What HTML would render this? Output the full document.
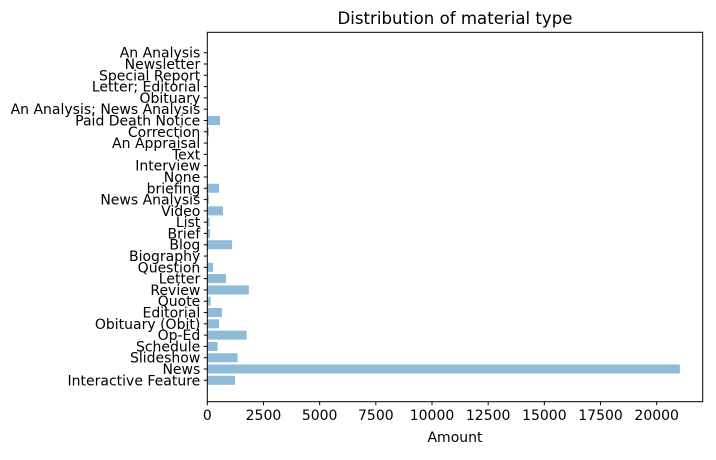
<!DOCTYPE html>
<html><head><meta charset="utf-8"><style>
body{margin:0;background:#fff;}
svg text{font-family:"DejaVu Sans","Liberation Sans",sans-serif;fill:#000;}
</style></head><body>
<svg id="chart" width="716" height="455">
<text x="455" y="24" font-size="16.6" text-anchor="middle">Distribution of material type</text>
<g id="bars"></g><g id="yticks"></g><g id="xticks"></g>
<rect x="207.3" y="32.3" width="495.4" height="369.4" fill="none" stroke="#000" stroke-width="1"/>
<text x="455" y="442" font-size="14" text-anchor="middle">Amount</text>
</svg>
<script>
const categories=["Interactive Feature","News","Slideshow","Schedule","Op-Ed","Obituary (Obit)","Editorial","Quote","Review","Letter","Question","Biography","Blog","Brief","List","Video","News Analysis","briefing","None","Interview","Text","An Appraisal","Correction","Paid Death Notice","An Analysis; News Analysis","Obituary","Letter; Editorial","Special Report","Newsletter","An Analysis"];
const amounts=[1230,21030,1350,460,1750,520,650,150,1850,830,250,5,1100,120,100,700,70,520,5,5,5,5,70,565,3,3,3,3,3,3];
const xTicks=[0,2500,5000,7500,10000,12500,15000,17500,20000];
</script>
<script>
const NS="http://www.w3.org/2000/svg";
const X0=207.3, XPX=(656.7-207.3)/20000;
const xs=v=>X0+v*XPX;
const n=categories.length;
const Y0=380.3, step=(380.3-52.7)/(n-1);
const ys=i=>Y0-i*step;
const bars=document.getElementById('bars'),yt=document.getElementById('yticks'),xt=document.getElementById('xticks');
categories.forEach((c,i)=>{
  const r=document.createElementNS(NS,'rect');
  r.setAttribute('x',X0);r.setAttribute('y',ys(i)-step*0.4);
  r.setAttribute('width',Math.max(0,xs(amounts[i])-X0));r.setAttribute('height',step*0.8);
  r.setAttribute('fill','#8fbbd9');
  
  
  bars.appendChild(r);
  const l=document.createElementNS(NS,'line');
  l.setAttribute('x1',X0-3.5);l.setAttribute('x2',X0);l.setAttribute('y1',ys(i));l.setAttribute('y2',ys(i));l.setAttribute('stroke','#000');
  yt.appendChild(l);
  const t=document.createElementNS(NS,'text');
  t.setAttribute('x',X0-7);t.setAttribute('y',ys(i)+5);t.setAttribute('font-size','14');t.setAttribute('text-anchor','end');
  t.textContent=c;
  
  
  yt.appendChild(t);
});
xTicks.forEach(v=>{
  const l=document.createElementNS(NS,'line');
  l.setAttribute('x1',xs(v));l.setAttribute('x2',xs(v));l.setAttribute('y1',401.7);l.setAttribute('y2',405.2);l.setAttribute('stroke','#000');
  xt.appendChild(l);
  const t=document.createElementNS(NS,'text');
  t.setAttribute('x',xs(v));t.setAttribute('y',420);t.setAttribute('font-size','14');t.setAttribute('text-anchor','middle');
  t.textContent=v;
  
  
  xt.appendChild(t);
});
</script>
</body></html>
